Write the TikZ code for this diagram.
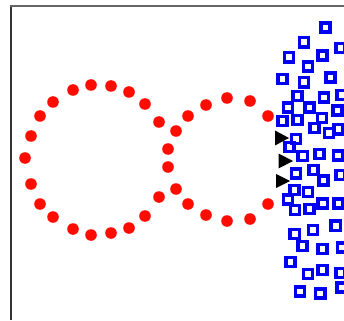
\documentclass[tikz,border=0pt]{standalone}
\begin{document}
\begin{tikzpicture}[x=1pt,y=-1pt,
  reddot/.style={fill={rgb,255:red,255;green,12;blue,0}},
  bluesq/.style={draw={rgb,255:red,0;green,0;blue,240},line width=3.6pt},
  tri/.style={fill=black},
  frameleft/.style={draw=black!80,line width=1.3pt},
  frametop/.style={draw=black!60,line width=1.6pt}]
\useasboundingbox (0,0) rectangle (344,320);
\fill[white] (0,0) rectangle (344,320);
\draw[frameleft] (11,320) -- (11,5.2);
\draw[frametop] (10.4,6) -- (344,6);
% red dots
\foreach \x/\y in {91/85,111/86,129/92,145/104,159/122,168/149,168/167,159/197,145/216,129/228,111/233,91/235,73/229,53/217,40/204,31/184,25/158,31/136,40/116,53/102,73/90,
  176/131,188/116,206/105,227/98,250/101,268/116,268/204,250/219,227/221,206/215,188/204,176/189}
  \fill[reddot] (\x,\y) circle (5.8);
% black triangles
\fill[tri] (275,130.5) -- (289,138) -- (275,145.5) -- cycle;
\fill[tri] (278.5,153.5) -- (293,161) -- (278.5,168.5) -- cycle;
\fill[tri] (276,174) -- (290,181) -- (276,188) -- cycle;
% blue squares
\foreach \x/\y in {325.5/27.5,304/42.3,340.3/48,289/57.3,322.5/55.7,308/66.7,282.3/79,304/82.3,330.5/77.5,
  341.5/95,297.5/96,324/97.5,288/107.5,309.3/107.5,337.3/110.5,282.5/121,297.5/120,322/118,314.5/128,
  329/133,338.5/129.3,296/139,289.5/147,302.7/156,319.5/154,338/155.5,296/173.3,313.3/170,323.5/180.5,
  340.5/175,294.5/190,308/192,288/199.3,295/210,309.3/209,322.7/203.3,338.5/203.5,294.7/234,313/230,
  335.7/225.7,302.5/246,322.5/249,342/247.5,290.5/262,308/274,322.5/270,340.3/273,300/291.5,320.2/293.5,341.5/287.5}
  \draw[bluesq] (\x-4.6,\y-4.6) rectangle ++(9.2,9.2);
\end{tikzpicture}
\end{document}
